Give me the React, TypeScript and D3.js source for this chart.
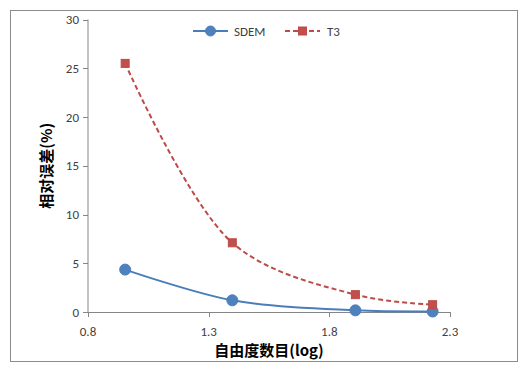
import React from "react";
import * as d3 from "d3";

const xValues = [0.954, 1.398, 1.908, 2.228];
const sdem = [4.35, 1.2, 0.17, 0.05];
const t3 = [25.5, 7.1, 1.78, 0.75];
const xTicks = [0.8, 1.3, 1.8, 2.3];
const yTicks = [0, 5, 10, 15, 20, 25, 30];
const seriesNames = ["SDEM", "T3"];

export default function App() {
  const W = 522, H = 376;
  const x = d3.scaleLinear().domain([0.8, 2.3]).range([88, 450]);
  const y = d3.scaleLinear().domain([0, 30]).range([312, 19.5]);
  const line = d3
    .line<[number, number]>()
    .x((d) => x(d[0]))
    .y((d) => y(d[1]))
    .curve(d3.curveCatmullRom.alpha(0.5));
  const sPts = xValues.map((v, i) => [v, sdem[i]] as [number, number]);
  const tPts = xValues.map((v, i) => [v, t3[i]] as [number, number]);
  const blue = "#4A7EBB";
  const blueM = "#4F81BD";
  const red = "#BE4B48";
  const redM = "#C0504D";
  const axisC = "#868686";
  const font = "Calibri, 'Liberation Sans', 'Noto Sans', Arial, sans-serif";
  return (
    <svg
      width={W}
      height={H}
      style={{ position: "absolute", left: 0, top: 0, background: "#fff" }}
    >
      <rect x={10.5} y={10.5} width={507} height={351} fill="#fff" stroke="#8c8c8c" strokeWidth={1} />
      {/* axes */}
      <line x1={x(0.8)} x2={x(0.8)} y1={y(30)} y2={y(0)} stroke={axisC} />
      <line x1={x(0.8)} x2={x(2.3)} y1={y(0) + 0.5} y2={y(0) + 0.5} stroke={axisC} />
      {yTicks.map((t) => (
        <g key={"y" + t}>
          <line x1={x(0.8) - 5} x2={x(0.8)} y1={Math.round(y(t)) + 0.5} y2={Math.round(y(t)) + 0.5} stroke={axisC} />
          <text
            x={x(0.8) - 9}
            y={y(t)}
            dy="0.35em"
            textAnchor="end"
            fontSize={13}
            fill="#404040"
            fontFamily={font}
          >
            {t}
          </text>
        </g>
      ))}
      {xTicks.map((t) => (
        <g key={"x" + t}>
          <line x1={Math.round(x(t)) + 0.5} x2={Math.round(x(t)) + 0.5} y1={y(0)} y2={y(0) + 5} stroke={axisC} />
          <text
            x={x(t)}
            y={y(0) + 24}
            textAnchor="middle"
            fontSize={13}
            fill="#404040"
            fontFamily={font}
          >
            {t.toFixed(1)}
          </text>
        </g>
      ))}
      {/* series */}
      <path d={line(tPts) || ""} fill="none" stroke={red} strokeWidth={2} strokeDasharray="5,3" />
      <path d={line(sPts) || ""} fill="none" stroke={blue} strokeWidth={2} />
      {sPts.map((p, i) => (
        <circle key={"s" + i} cx={x(p[0])} cy={y(p[1])} r={5.5} fill={blueM} stroke={blue} />
      ))}
      {tPts.map((p, i) => (
        <rect key={"t" + i} x={x(p[0]) - 4} y={y(p[1]) - 4} width={8} height={8} fill={redM} stroke={red} />
      ))}
      {/* legend */}
      <line x1={193} x2={228} y1={31} y2={31} stroke={blue} strokeWidth={2} />
      <circle cx={210.5} cy={31} r={5} fill={blueM} stroke={blue} />
      <text x={234} y={31} dy="0.35em" fontSize={13} fill="#404040" fontFamily={font}>
        {seriesNames[0]}
      </text>
      <line x1={285} x2={320} y1={31} y2={31} stroke={red} strokeWidth={2} strokeDasharray="5,3" />
      <rect x={298.5} y={27} width={8} height={8} fill={redM} stroke={red} />
      <text x={327} y={31} dy="0.35em" fontSize={13} fill="#404040" fontFamily={font}>
        {seriesNames[1]}
      </text>
      {/* axis titles */}
      <text
        transform={`translate(52,${(y(0) + y(30)) / 2}) rotate(-90)`}
        textAnchor="middle"
        fontSize={15}
        fontWeight="bold"
        fill="#000"
        fontFamily="'Noto Sans CJK SC', sans-serif"
      >
        相对误差(%)
      </text>
      <text
        x={269}
        y={356}
        textAnchor="middle"
        fontSize={15}
        fontWeight="bold"
        fill="#000"
        fontFamily="'Noto Sans CJK SC', sans-serif"
      >
        自由度数目(log)
      </text>
    </svg>
  );
}
